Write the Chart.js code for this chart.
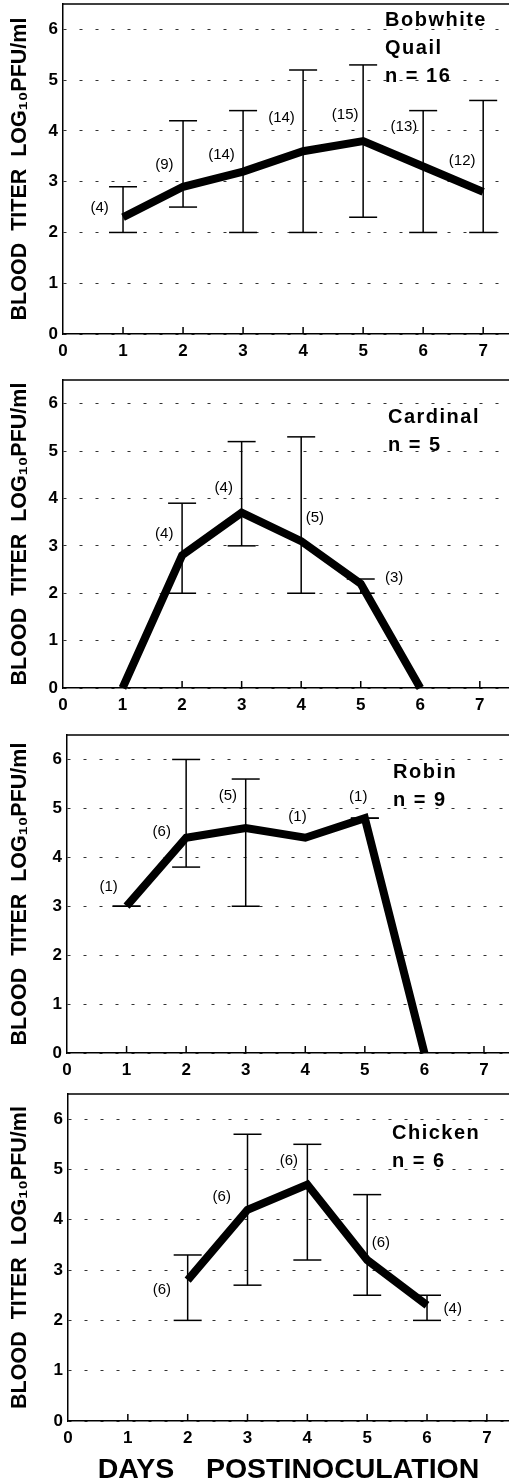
<!DOCTYPE html>
<html>
<head>
<meta charset="utf-8">
<script src="https://cdn.jsdelivr.net/npm/chart.js@4.4.0/dist/chart.umd.min.js"></script>
<style>
  html, body { margin: 0; padding: 0; background: #fff; overflow: hidden; }
  canvas { position: absolute; left: 0; }
</style>
</head>
<body>
<canvas id="quail"></canvas>
<canvas id="cardinal"></canvas>
<canvas id="robin"></canvas>
<canvas id="chicken"></canvas>
<script>
// days postinoculation and mean titers (log10 PFU/ml)
const quailDays = [1, 2, 3, 4, 5, 6, 7];
const quailMean = [2.3, 2.9, 3.2, 3.6, 3.8, 3.3, 2.8];
const quailLow  = [2.0, 2.5, 2.0, 2.0, 2.3, 2.0, 2.0];
const quailHigh = [2.9, 4.2, 4.4, 5.2, 5.3, 4.4, 4.6];
const quailN    = [4, 9, 14, 14, 15, 13, 12];

const cardinalDays = [1, 2, 3, 4, 5, 6];
const cardinalMean = [0, 2.8, 3.7, 3.1, 2.2, 0];
const cardinalLow  = [null, 2.0, 3.0, 2.0, 2.0, null];
const cardinalHigh = [null, 3.9, 5.2, 5.3, 2.3, null];
const cardinalN    = [null, 4, 4, 5, 3, null];

const robinDays = [1, 2, 3, 4, 5, 6];
const robinMean = [3.0, 4.4, 4.6, 4.4, 4.8, 0];
const robinLow  = [3.0, 3.8, 3.0, null, 4.8, null];
const robinHigh = [3.0, 6.0, 5.6, null, 4.8, null];
const robinN    = [1, 6, 5, 1, 1, null];

const chickenDays = [2, 3, 4, 5, 6];
const chickenMean = [2.8, 4.2, 4.7, 3.2, 2.3];
const chickenLow  = [2.0, 2.7, 3.2, 2.5, 2.0];
const chickenHigh = [3.3, 5.7, 5.5, 4.5, 2.5];
const chickenN    = [6, 6, 6, 6, 4];

const yTicks = [0, 1, 2, 3, 4, 5, 6];
const xTicks = [0, 1, 2, 3, 4, 5, 6, 7];

const FONT = '"Liberation Sans", Arial, sans-serif';

// frame top edge, inward ticks, (n) labels and species name
const extras = {
  id: 'extras',
  afterDraw(chart, args, o) {
    const {ctx, chartArea: a, scales: {x, y}} = chart;
    ctx.save();
    ctx.strokeStyle = '#000';
    ctx.lineWidth = 1.5;
    ctx.beginPath();
    ctx.moveTo(a.left, a.top);
    ctx.lineTo(a.right, a.top);
    x.ticks.forEach(t => {
      if (t.value <= 0) return;
      const px = x.getPixelForValue(t.value);
      ctx.moveTo(px, a.bottom);
      ctx.lineTo(px, a.bottom - 7);
    });
    ctx.stroke();

    ctx.fillStyle = '#000';
    ctx.textBaseline = 'middle';
    ctx.textAlign = 'center';
    ctx.font = '15px ' + FONT;
    o.counts.forEach((n, i) => {
      if (n == null) return;
      const p = o.countAt[i];
      ctx.fillText('(' + n + ')', x.getPixelForValue(p[0]), y.getPixelForValue(p[1]));
    });

    ctx.textAlign = 'left';
    ctx.font = 'bold 20px ' + FONT;
    ctx.letterSpacing = '1.5px';
    o.name.forEach((line, i) => ctx.fillText(line, o.nameAt[0], o.nameAt[1] + i * 28));
    ctx.restore();
  }
};

function points(days, vals) {
  return days.map((d, i) => ({x: d, y: vals[i]}));
}

function bars(days, lo, hi) {
  const pts = [];
  days.forEach((d, i) => {
    if (lo[i] == null) return;
    pts.push({x: d, y: lo[i]}, {x: d, y: hi[i]}, {x: d, y: null});
  });
  return pts;
}

function panel(id, p) {
  const el = document.getElementById(id);
  el.width = 509;
  el.height = p.h;
  el.style.top = p.top + 'px';
  el.style.width = '509px';
  el.style.height = p.h + 'px';

  new Chart(el, {
    type: 'line',
    data: {
      datasets: [{
        data: points(p.days, p.mean),
        borderColor: '#000',
        borderWidth: 8,
        pointRadius: 0,
        tension: 0,
        clip: false
      }, {
        data: bars(p.days, p.low, p.high),
        borderColor: '#000',
        borderWidth: 1.5,
        pointStyle: 'line',
        pointRadius: 14,
        pointBorderWidth: 1.5,
        pointBorderColor: '#000',
        spanGaps: false,
        clip: false
      }]
    },
    options: {
      responsive: false,
      animation: false,
      events: [],
      layout: {autoPadding: false, padding: {top: p.areaTop, left: 0, right: 0, bottom: 0}},
      plugins: {
        legend: {display: false},
        tooltip: {enabled: false},
        extras: {counts: p.n, countAt: p.countAt, name: p.name, nameAt: p.nameAt}
      },
      scales: {
        x: {
          type: 'linear',
          min: 0,
          max: p.xMax,
          afterBuildTicks: s => { s.ticks = xTicks.map(v => ({value: v})); },
          afterFit: s => {
            s.height = p.h - p.areaBottom;
            s.paddingLeft = 0;
            s.paddingRight = 0;
          },
          grid: {display: false, drawTicks: false},
          border: {display: true, color: '#000', width: 1.5},
          ticks: {
            color: '#000',
            padding: 7,
            maxRotation: 0,
            font: {family: FONT, size: 17, weight: 'bold'}
          },
          title: {
            display: !!p.xTitle,
            text: p.xTitle || '',
            color: '#000',
            padding: 0,
            font: {family: FONT, size: 28.5, weight: 'bold', lineHeight: 1}
          }
        },
        y: {
          min: 0,
          max: 6.5,
          afterBuildTicks: s => { s.ticks = yTicks.map(v => ({value: v})); },
          afterFit: s => {
            s.width = p.areaLeft;
            s.paddingTop = 0;
            s.paddingBottom = 0;
          },
          grid: {color: '#333', lineWidth: 1, drawTicks: false},
          border: {display: true, color: '#000', width: 1.5, dash: [3, 13]},
          ticks: {
            color: '#000',
            padding: 5,
            font: {family: FONT, size: 17, weight: 'bold'}
          },
          title: {
            display: true,
            text: 'BLOOD  TITER  LOG\u2081\u2080PFU/ml',
            color: '#000',
            padding: {top: 7, bottom: 0},
            font: {family: FONT, size: 21.5, weight: 'bold'}
          }
        }
      }
    },
    plugins: [extras]
  });
}

panel('quail', {
  top: 0, h: 360, areaTop: 4, areaBottom: 334, areaLeft: 63, xMax: 7.43,
  days: quailDays, mean: quailMean, low: quailLow, high: quailHigh, n: quailN,
  countAt: [[0.61, 2.48], [1.69, 3.34], [2.64, 3.53], [3.64, 4.26], [4.70, 4.32], [5.68, 4.08], [6.65, 3.42]],
  name: ['Bobwhite', 'Quail', 'n = 16'], nameAt: [385, 20]
});

panel('cardinal', {
  top: 360, h: 370, areaTop: 20, areaBottom: 328, areaLeft: 63, xMax: 7.49,
  days: cardinalDays, mean: cardinalMean, low: cardinalLow, high: cardinalHigh, n: cardinalN,
  countAt: [null, [1.70, 3.26], [2.70, 4.23], [4.23, 3.60], [5.56, 2.32], null],
  name: ['Cardinal', 'n = 5'], nameAt: [388, 57]
});

panel('robin', {
  top: 730, h: 350, areaTop: 5, areaBottom: 323, areaLeft: 67, xMax: 7.42,
  days: robinDays, mean: robinMean, low: robinLow, high: robinHigh, n: robinN,
  countAt: [[0.70, 3.40], [1.59, 4.51], [2.70, 5.26], [3.87, 4.83], [4.89, 5.23], null],
  name: ['Robin', 'n = 9'], nameAt: [393, 42]
});

panel('chicken', {
  top: 1080, h: 404, areaTop: 14, areaBottom: 341, areaLeft: 68, xMax: 7.37,
  days: chickenDays, mean: chickenMean, low: chickenLow, high: chickenHigh, n: chickenN,
  countAt: [[1.57, 2.61], [2.57, 4.45], [3.69, 5.17], [5.23, 3.55], [6.43, 2.22]],
  name: ['Chicken', 'n = 6'], nameAt: [392, 53],
  xTitle: 'DAYS    POSTINOCULATION'
});
</script>
</body>
</html>
